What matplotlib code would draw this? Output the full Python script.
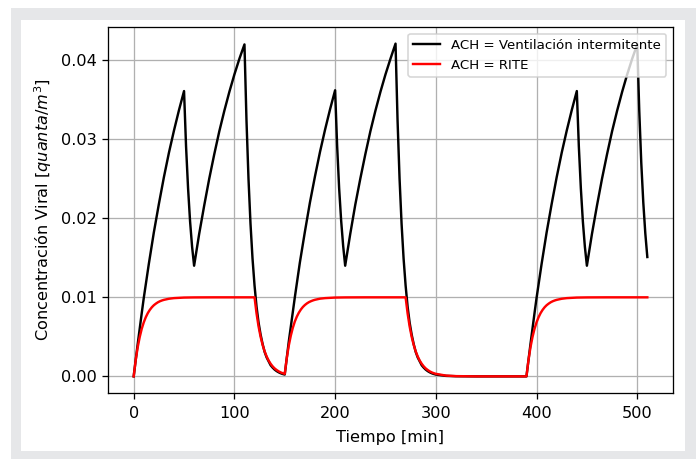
import matplotlib
matplotlib.use("Agg")
import matplotlib.pyplot as plt
from matplotlib.patches import Rectangle

# Viral concentration (quanta/m^3) over time (min)
time_intermitente = [
    0, 2, 4, 6, 8, 10, 15, 20, 25, 30, 35, 40, 45, 50,
    52, 54, 56, 58, 60,
    65, 70, 75, 80, 85, 90, 95, 100, 105, 110,
    112, 114, 116, 118, 120, 122, 124, 126, 128, 130,
    132, 134, 136, 138, 140, 142, 144, 146, 148, 150,
    152, 154, 156, 158, 160, 165, 170, 175, 180, 185, 190, 195, 200,
    202, 204, 206, 208, 210,
    215, 220, 225, 230, 235, 240, 245, 250, 255, 260,
    262, 264, 266, 268, 270, 272, 274, 276, 278, 280,
    282, 284, 286, 288, 290, 292, 294, 296, 298, 300,
    310, 320, 340, 360, 390,
    392, 394, 396, 398, 400, 405, 410, 415, 420, 425, 430, 435, 440,
    442, 444, 446, 448, 450,
    455, 460, 465, 470, 475, 480, 485, 490, 495, 500,
    502, 504, 506, 508, 510,
]
conc_intermitente = [
    0.0, 0.0021, 0.0041, 0.0061, 0.0080, 0.0099, 0.0142, 0.0182, 0.0218, 0.0252, 0.0283, 0.0311, 0.0337, 0.0361,
    0.0291, 0.0238, 0.0196, 0.0164, 0.0140,
    0.0180, 0.0216, 0.0250, 0.0281, 0.0310, 0.0336, 0.0360, 0.0382, 0.0402, 0.0420,
    0.0324, 0.0250, 0.0193, 0.0149, 0.0115, 0.0088, 0.0068, 0.0053, 0.0041, 0.0031,
    0.0024, 0.0019, 0.0014, 0.0011, 0.00085, 0.00066, 0.00051, 0.00039, 0.00030, 0.00023,
    0.0023, 0.0044, 0.0063, 0.0082, 0.0100, 0.0144, 0.0183, 0.0220, 0.0253, 0.0284, 0.0312, 0.0338, 0.0362,
    0.0292, 0.0238, 0.0197, 0.0165, 0.0140,
    0.0180, 0.0217, 0.0250, 0.0281, 0.0310, 0.0336, 0.0360, 0.0382, 0.0402, 0.0421,
    0.0324, 0.0250, 0.0193, 0.0149, 0.0115, 0.0088, 0.0068, 0.0053, 0.0041, 0.0031,
    0.0024, 0.0019, 0.0014, 0.0011, 0.00085, 0.00066, 0.00051, 0.00039, 0.00030, 0.00023,
    0.00006, 0.00002, 0.0, 0.0, 0.0,
    0.0021, 0.0041, 0.0061, 0.0080, 0.0099, 0.0142, 0.0182, 0.0218, 0.0252, 0.0283, 0.0311, 0.0337, 0.0361,
    0.0291, 0.0238, 0.0196, 0.0164, 0.0140,
    0.0180, 0.0216, 0.0250, 0.0281, 0.0310, 0.0336, 0.0360, 0.0382, 0.0402, 0.0420,
    0.0336, 0.0270, 0.0220, 0.0181, 0.0151,
]

time_rite = [
    0, 2, 4, 6, 8, 10, 12, 14, 16, 18, 20, 22, 24, 26, 28, 30,
    35, 40, 50, 60, 80, 100, 120,
    122, 124, 126, 128, 130, 132, 134, 136, 138, 140, 142, 144, 146, 148, 150,
    152, 154, 156, 158, 160, 162, 164, 166, 168, 170, 172, 174, 176, 178, 180,
    185, 190, 200, 210, 230, 250, 270,
    272, 274, 276, 278, 280, 282, 284, 286, 288, 290, 292, 294, 296, 298, 300,
    310, 320, 340, 360, 390,
    392, 394, 396, 398, 400, 402, 404, 406, 408, 410, 412, 414, 416, 418, 420,
    425, 430, 440, 450, 470, 490, 510,
]
conc_rite = [
    0.0, 0.00206, 0.00369, 0.00498, 0.00602, 0.00683, 0.00748, 0.00800,
    0.00841, 0.00874, 0.00900, 0.00920, 0.00937, 0.00950, 0.00960, 0.00968,
    0.00982, 0.00990, 0.00997, 0.00999, 0.01, 0.01, 0.01,
    0.00795, 0.00631, 0.00502, 0.00399, 0.00317, 0.00252, 0.00200, 0.00159,
    0.00126, 0.00100, 0.00080, 0.00063, 0.00050, 0.00040, 0.00032,
    0.00231, 0.00389, 0.00514, 0.00614, 0.00694, 0.00756, 0.00806, 0.00846,
    0.00878, 0.00903, 0.00923, 0.00939, 0.00951, 0.00961, 0.00969,
    0.00983, 0.00990, 0.00997, 0.00999, 0.01, 0.01, 0.01,
    0.00795, 0.00631, 0.00502, 0.00399, 0.00317, 0.00252, 0.00200, 0.00159,
    0.00126, 0.00100, 0.00080, 0.00063, 0.00050, 0.00040, 0.00032,
    0.00010, 0.00003, 0.0, 0.0, 0.0,
    0.00206, 0.00369, 0.00498, 0.00602, 0.00683, 0.00748, 0.00800,
    0.00841, 0.00874, 0.00900, 0.00920, 0.00937, 0.00950, 0.00960, 0.00968,
    0.00982, 0.00990, 0.00997, 0.00999, 0.01, 0.01, 0.01,
]

labels = ["ACH = Ventilación intermitente", "ACH = RITE"]
x_ticks = [0, 100, 200, 300, 400, 500]
y_ticks = [0.00, 0.01, 0.02, 0.03, 0.04]

W, H, DPI = 696, 459, 116
fig = plt.figure(figsize=(W / DPI, H / DPI), dpi=DPI)

# light grey frame around the plot area
frame = "#e6e7e9"
fig.patches.append(Rectangle((11 / W, 0), (W - 11) / W, (H - 8) / H,
                             transform=fig.transFigure, facecolor=frame,
                             edgecolor="none", zorder=-2))
fig.patches.append(Rectangle((21 / W, 8 / H), (685 - 21) / W, (451 - 20) / H,
                             transform=fig.transFigure, facecolor="white",
                             edgecolor="none", zorder=-1))

ax = fig.add_axes([108 / W, 1 - 393 / H, (673 - 108) / W, (393 - 27) / H])
ax.plot(time_intermitente, conc_intermitente, color="black", lw=1.5, label=labels[0])
ax.plot(time_rite, conc_rite, color="red", lw=1.5, label=labels[1])

ax.set_xticks(x_ticks)
ax.set_yticks(y_ticks)
ax.tick_params(axis="x", pad=4.8)
ax.grid(True)
ax.set_xlabel("Tiempo [min]", labelpad=5.5)
ax.set_ylabel(r"Concentración Viral [$quanta/m^3$]")
ax.legend(loc="upper right", fontsize="small")

fig.savefig("out.png", dpi=DPI)
